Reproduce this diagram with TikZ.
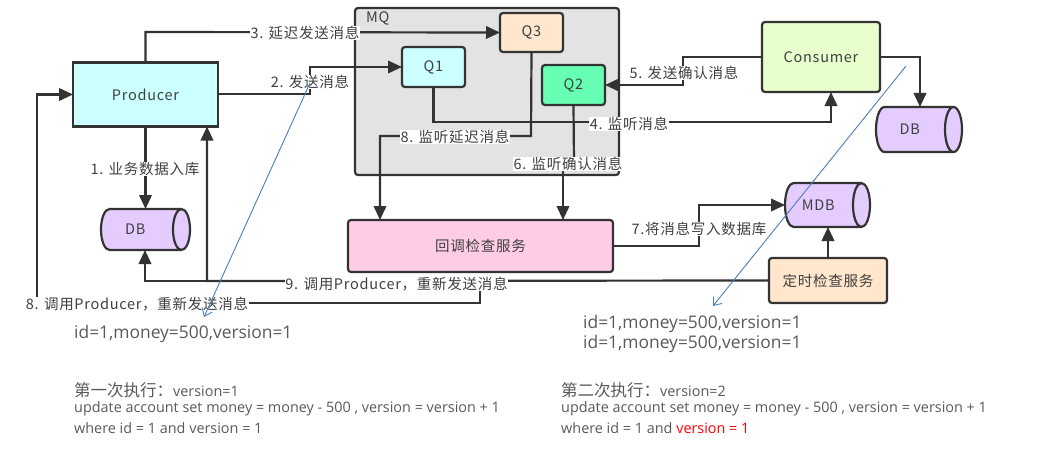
\documentclass[tikz,border=0pt]{standalone}
\usepackage{fontspec}
\setmainfont[LetterSpace=5]{Noto Sans CJK SC}
\newfontfamily\btm{Open Sans}
\newfontfamily\cjkb{Noto Sans CJK SC}
\usetikzlibrary{arrows.meta,shapes.geometric}
\definecolor{ink}{HTML}{333333}
\definecolor{txt}{HTML}{404040}
\definecolor{bt}{HTML}{595959}
\definecolor{blueln}{HTML}{4A7EBB}
\definecolor{dbfill}{HTML}{E5CCFF}
\definecolor{mqfill}{HTML}{E3E3E3}
\definecolor{prod}{HTML}{CCFFFF}
\definecolor{qthree}{HTML}{FFE6CC}
\definecolor{qtwo}{HTML}{66FFB3}
\definecolor{cons}{HTML}{E6FFCC}
\definecolor{cb}{HTML}{FFCCE6}
\tikzset{
  x=1pt,y=-1pt,
  box/.style={draw=ink,line width=2.2pt,outer sep=0pt,inner sep=0pt,rounded corners=3pt,text=txt,font=\fontsize{14.5}{16}\selectfont},
  cyl/.style={shape=cylinder,anchor=shape center,draw=ink,line width=2.2pt,fill=dbfill,outer sep=0pt,inner sep=0pt,shape aspect=1.6,text=txt,font=\fontsize{14.5}{16}\selectfont},
  conn/.style={draw=ink,line width=2.2pt,line join=miter},
  arr/.style={conn,-{Triangle[length=14pt,width=12.5pt]}},
  lab/.style={fill=white,inner sep=0.5pt,text=txt,font=\fontsize{14.5}{16}\selectfont},
  note/.style={anchor=west,inner sep=0pt,text=bt},
  big/.style={note,font=\btm\fontsize{17.4}{18}\selectfont},
  small/.style={note,font=\btm\fontsize{14.4}{16}\selectfont},
  hint/.style={draw=blueln,line width=0.9pt,-{Straight Barb[length=7pt,width=11pt,line width=0.9pt]}},
}
\begin{document}
\begin{tikzpicture}
\useasboundingbox (0,0) rectangle (1045,464);
% boxes
\node[box,fill=mqfill,minimum width=264pt,minimum height=167pt] (mq) at (487,91.5) {};
\node[anchor=west,inner sep=0pt,text=txt,font=\fontsize{14.5}{16}\selectfont] (mqt) at (366,18) {MQ};
\node[box,fill=prod,rounded corners=0pt,minimum width=145pt,minimum height=64pt] (producer) at (145.5,94.5) {Producer};
\node[cyl,minimum height=89pt,minimum width=41pt] (dba) at (145.5,229.5) {DB\hspace*{11pt}};
\node[box,fill=prod,minimum width=63pt,minimum height=40pt] (qa) at (433.5,67) {Q1};
\node[box,fill=qthree,minimum width=63pt,minimum height=39pt] (qc) at (531.5,32.5) {Q3};
\node[box,fill=qtwo,minimum width=63pt,minimum height=40pt] (qb) at (573.5,85) {Q2};
\node[box,fill=cons,minimum width=118pt,minimum height=70pt] (consumer) at (821,57) {Consumer};
\node[cyl,minimum height=86pt,minimum width=45pt] (dbb) at (919,129.5) {DB\hspace*{9pt}};
\node[cyl,minimum height=85pt,minimum width=44pt] (mdb) at (827.5,205) {MDB\hspace*{9pt}};
\node[box,fill=qthree,minimum width=118pt,minimum height=45pt] (timer) at (828,280.5) {定时检查服务};
\node[box,fill=cb,minimum width=265pt,minimum height=52pt] (callback) at (480.5,246) {回调检查服务};
% connector waypoints
\coordinate (c2) at (310,94);
\coordinate (c3) at (145.5,32);
\coordinate (c4) at (831,122);
\coordinate (c5) at (683,57);
\coordinate (c7) at (699,246);
\coordinate (c9) at (207,281);
\coordinate (c9b) at (145,281);
\coordinate (c8a) at (480,281);
\coordinate (c8b) at (480,303);
\coordinate (c8c) at (37,303);
\coordinate (c8d) at (531,136);
\coordinate (c8e) at (380,136);
\coordinate (c6a) at (574,163);
\coordinate (c6b) at (563,163);
\coordinate (c10) at (920,57);
\coordinate (h1a) at (310,83);
\coordinate (h1b) at (204,317);
\coordinate (h2a) at (906,66);
\coordinate (h2b) at (713,306);
% connectors
\draw[arr] (producer.north) -- (c3) -- (qc.west);
\draw[arr] (c2 -| producer.east) -- (c2) |- (qa.west);
\draw[arr] (producer.south) -- (producer.south |- dba.north);
\draw[arr] (qa.south) |- (c4) -- (c4 |- consumer.south);
\draw[arr] (qc.south) -- (c8d) -- (c8e) -- (c8e |- callback.north);
\draw[conn] (qb.south) -- (c6a);
\draw[arr] (c6b) -- (c6b |- callback.north);
\draw[arr] (consumer.west) -- (c5) |- (qb.east);
\draw[arr] (consumer.east) -- (c10) -- (c10 |- dbb.north);
\draw[arr] (callback.east) -- (c7) |- (mdb.west);
\draw[arr] (timer.north) -- (timer.north |- mdb.south);
\draw[arr] (timer.west) -- (c9) -- (c9 |- producer.south);
\draw[arr] (c9) -- (c9b) -- (c9b |- dba.south);
\draw[arr] (c8a) -- (c8b) -- (c8c) |- (producer.west);
% labels
\node[lab] (l1) at (145,169) {1. 业务数据入库};
\node[lab] (l2) at (310,82) {2. 发送消息};
\node[lab] (l3) at (305,33) {3. 延迟发送消息};
\node[lab] (l4) at (629,124) {4. 监听消息};
\node[lab] (l5) at (684,73) {5. 发送确认消息};
\node[lab] (l6) at (568,164) {6. 监听确认消息};
\node[lab] (l7) at (699,229) {7.将消息写入数据库};
\node[lab] (l8) at (455,137) {8. 监听延迟消息};
\node[lab] (l9) at (396.5,284) {9. 调用Producer，重新发送消息};
\node[lab] (l10) at (137,304) {8. 调用Producer，重新发送消息};
% notes
\node[big] (n1) at (74,334) {id=1,money=500,version=1};
\node[big] (n2) at (583,324) {id=1,money=500,version=1};
\node[big] (n3) at (583,344) {id=1,money=500,version=1};
\node[small] (n4) at (74,390) {{\cjkb\fontsize{16.5}{18}\selectfont 第一次执行：}version=1};
\node[small] (n5) at (74,409) {update account set money = money - 500 , version = version + 1};
\node[small] (n6) at (74,428) {where id = 1 and version = 1};
\node[small] (n7) at (561,390) {{\cjkb\fontsize{16.5}{18}\selectfont 第二次执行：}version=2};
\node[small] (n8) at (561,409) {update account set money = money - 500 , version = version + 1};
\node[small] (n9) at (561,428) {where id = 1 and \textcolor{red}{version = 1}};
% blue pointers
\draw[hint] (h1a) -- (h1b);
\draw[hint] (h2a) -- (h2b);
\end{tikzpicture}
\end{document}
